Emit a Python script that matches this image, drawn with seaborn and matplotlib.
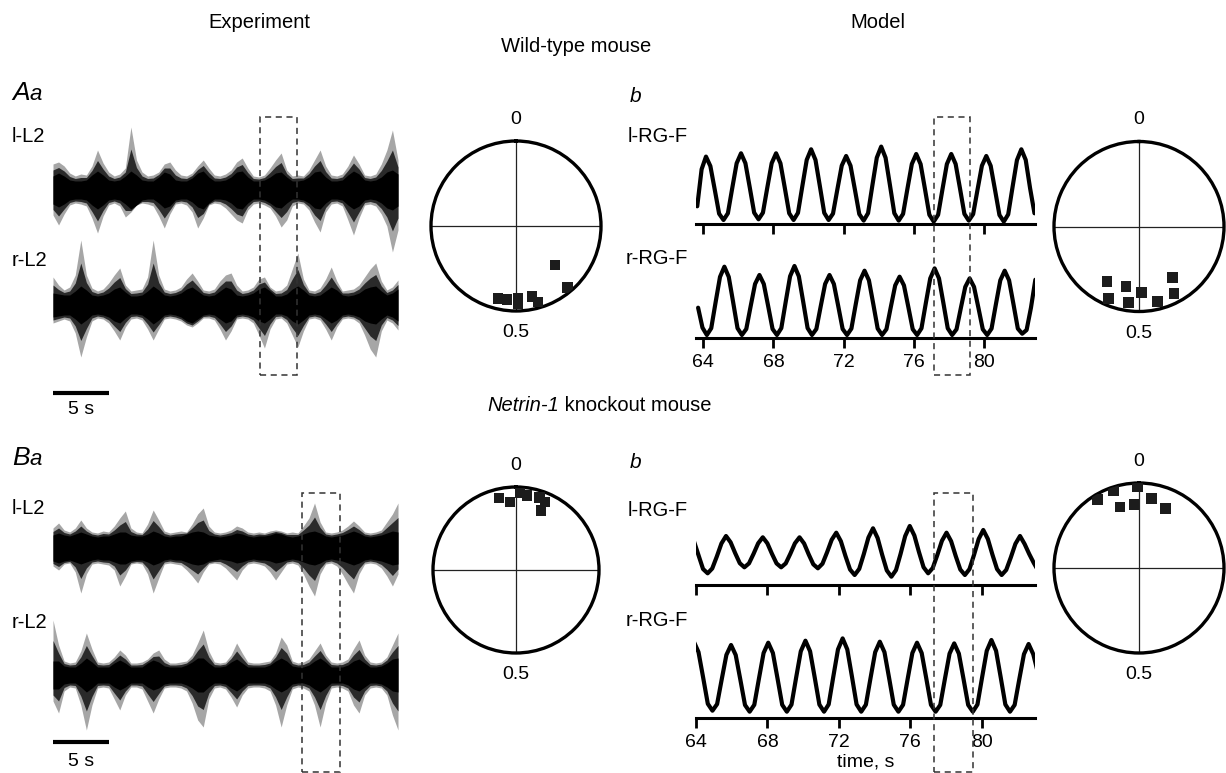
import matplotlib
matplotlib.use('Agg')
import numpy as np
import matplotlib.pyplot as plt
import seaborn as sns
from matplotlib.patches import Rectangle
from matplotlib.transforms import blended_transform_factory

sns.set_style('white')
plt.rcParams['font.family'] = ['Liberation Sans', 'DejaVu Sans']
plt.rcParams.update({'text.color': 'black', 'xtick.color': 'black', 'ytick.color': 'black',
                     'axes.labelcolor': 'black'})

# ---------------- data ----------------
# Experiment (ENG) traces: envelope read every 0.5 s over ~31 s (pixel units from trace centre)
exp_step = 0.5
A_top_hi = [26,28,24,17,14,16,15,24,40,27, 18,14,16,22,63,30,18,14,15,18, 26,28,20,15,14,17,24,30,22,15,
            14,16,20,28,32,22,14,13,15,22, 30,37,20,14,15,14,20,30,40,24, 15,14,16,24,35,26,15,14,16,26, 40,60,30]
A_top_lo = [25,35,24,15,13,14,16,28,43,26, 15,13,16,27,22,15,13,14,16,26, 38,24,14,13,15,22,38,28,15,13,
            14,18,24,30,33,20,14,13,15,18, 26,37,30,16,13,14,20,32,42,22, 14,13,16,30,45,28,15,14,16,24, 36,62,40]
A_top_core = [14,17,14,10,9,9,10,15,19,15, 10,9,10,14,19,15,10,9,9,13, 18,16,10,9,9,12,17,19,13,9,
              9,10,13,18,19,13,9,9,10,13, 17,18,13,9,9,10,13,18,19,13, 9,9,10,15,19,16,10,9,10,13, 18,20,16]
A_bot_hi = [28,20,15,18,30,65,30,17,14,16, 22,30,37,20,14,15,16,28,65,30, 16,14,15,18,26,32,24,15,14,16,
            24,30,32,20,14,15,18,26,28,18, 14,15,20,36,52,26,15,14,17,26, 38,24,14,15,16,20,28,36,42,24, 15,18,25]
A_bot_lo = [18,16,14,16,28,52,32,16,13,14, 18,26,35,22,14,13,15,24,35,24, 14,13,14,16,20,22,18,13,13,15,
            24,35,26,14,13,14,18,30,43,24, 14,13,18,30,42,26,14,13,15,24, 35,22,14,13,14,18,30,44,52,26, 15,18,25]
A_bot_core = [12,11,10,10,14,19,15,10,9,10, 12,16,18,13,9,9,10,14,19,15, 10,9,10,12,16,18,14,10,9,10,
              14,18,16,10,9,10,12,16,18,14, 9,9,11,16,19,15,10,9,10,14, 18,15,10,9,10,12,16,18,19,14, 10,12,16]
B_top_hi = [20,25,18,16,20,28,20,16,15,17, 16,22,30,37,20,16,15,24,38,28, 17,15,16,17,16,24,34,40,22,16,
            15,16,18,22,20,16,15,16,15,17, 18,17,15,16,15,22,30,45,26,16, 15,16,18,22,27,22,16,15,16,18, 26,34,45]
B_top_lo = [18,22,16,15,24,45,26,16,15,16, 17,22,38,28,16,15,16,26,45,30, 16,15,16,17,22,28,35,24,16,15,
            16,20,26,32,22,16,15,16,18,24, 32,24,16,15,17,26,38,48,26,16, 15,18,26,36,45,26,16,15,16,20, 28,38,26]
B_top_core = [13,15,13,12,14,16,14,12,11,12, 12,14,16,16,13,12,12,14,17,15, 12,11,12,12,14,16,17,16,13,12,
              11,12,13,15,14,12,11,12,12,13, 15,14,12,11,12,14,16,17,15,12, 11,12,13,15,17,15,12,11,12,13, 15,17,16]
B_bot_hi = [55,30,14,12,13,24,42,26,13,12, 13,18,25,20,12,12,13,16,22,25, 16,12,12,13,14,20,32,45,24,13,
            12,13,20,32,22,13,12,12,13,14, 22,38,30,14,12,13,16,24,32,20, 13,12,13,16,26,35,20,13,12,13, 18,30,42]
B_bot_lo = [26,38,16,12,13,30,55,30,13,12, 13,24,35,20,12,12,14,26,38,24, 13,12,12,13,16,28,45,52,24,13,
            12,14,22,32,20,13,12,12,13,16, 30,52,30,14,12,13,16,30,52,28, 13,12,13,16,30,38,20,13,12,13, 20,40,55]
B_bot_core = [14,14,9,8,8,12,17,13,8,8, 8,12,15,12,8,8,8,12,15,13, 9,8,8,8,10,13,17,17,12,8,
              8,9,13,16,12,8,8,8,8,10, 14,17,14,9,8,8,10,14,17,13, 8,8,8,10,14,16,12,8,8,9, 12,16,17]

# Model traces (time, s): start time, sampling step, values (pixel height above time axis)
mA_top_t0, mA_top_dt = 63.65, 0.25
mA_top = [18,55,67.7,58.2,34.7,10.6,4.3,11.0,36.3,61.0, 71,61.1,36.7,11.6,5,11.6,36.7,61.1,71,61.0,
          36.3,11.0,4.3,11.4,38.2,64.4,75,64.4,38.2,11.4, 4.3,10.7,35.0,58.7,68.3,58.6,34.7,10.2,3.7,11.1,
          39.2,66.6,77.7,66.6,39.2,11.1,3.7,10.4,35.7,60.3, 70.3,60.2,35.2,9.5,2.7,9.5,35.2,60.2,70.3,60.3,
          35.7,10.4,3.7,10.2,34.7,58.6,68.3,58.5,34.2,9.3, 2.7,9.9,37.4,64.2,75,64.4,36,11]
mA_bot_t0, mA_bot_dt = 63.70, 0.25
mA_bot = [30,10,2.7, 9.5,35.5,60.8,71, 60.8,35.5,9.5,2.7, 8.7,31.5,53.7,62.7, 53.7,31.5,8.7,2.7,
          9.6,35.8,61.4,71.7, 61.4,35.8,9.6,2.7, 8.7,31.5,53.7,62.7, 53.7,31.5,8.7,2.7,
          9.1,33.6,57.4,67, 57.4,33.6,9.1,2.7, 8.5,30.7,52.3,61, 52.3,30.7,8.5,2.7,
          9.4,34.7,59.3,69.3, 59.3,34.7,9.4,2.7, 8.4,29.9,50.8,59.3, 50.8,29.9,8.4,2.7,
          9.1,33.6,57.4,67, 57.4,33.6,9.1,4, 7.7,30,58]
mB_top_t0, mB_top_dt = 63.88, 0.2572
mB_top = [44,30,16,11.7,16.5,28.5,41.5,49, 42.7,31.8,21.8,17.7,21.6,31.2,41.7,47.7,
          41.7,31.2,21.6,17.7,21.6,31.2,41.7,47.7, 41.5,30.6,20.7,16.7,21.3,32.7,45.2,52.3,
          43.8,29.0,15.5,10,16.1,31.0,47.4,56.7, 47.0,30.1,14.6,8.3,14.9,31.1,48.9,59,
          49.5,33.0,17.8,11.7,17.0,30.0,44.2,52.3, 43.8,29.0,15.5,10,15.9,30.3,46,55,
          46,30.3,15.9,10,15.1,27.6,41.2,49, 41,31,22,14]
mB_bot_t0, mB_bot_dt = 63.88, 0.2603
mB_bot = [76,65.6,40.1,13.9,7, 13.6,38.5,62.8,72.7, 62.7,38.0,12.7,6, 12.9,39.1,64.7,75, 64.7,39.1,12.9,6,
          13.1,40.1,66.4,77, 66.4,40.1,13.1,6, 13.3,41.2,68.3,79.3, 68.3,41.2,13.3,6, 13,39.6,65.5,76,
          65.5,39.6,13,6, 12.9,39.1,64.7,75, 64.7,39.1,12.9,6, 12.8,38.8,64.1,74.3, 64.1,38.8,12.8,6,
          13.2,40.4,66.9,77.7, 66.9,40.4,13.2,6, 12.8,38.5,63.5,73.7, 63.5,45]
model_ticks = [64, 68, 72, 76, 80]

# Phase (cycles) and radius of the polar points
pA_exp_phase = [0.375, 0.389, 0.539, 0.519, 0.496, 0.496, 0.464, 0.455]
pA_exp_r     = [0.65, 0.94, 0.88, 0.87, 0.85, 0.91, 0.85, 0.93]
pA_mod_phase = [0.584, 0.564, 0.534, 0.522, 0.494, 0.462, 0.407, 0.423]
pA_mod_r     = [0.75, 0.92, 0.72, 0.90, 0.78, 0.91, 0.72, 0.89]
pB_exp_phase = [0.963, 0.986, 0.008, 0.023, 0.050, 0.064, 0.063]
pB_exp_r     = [0.89, 0.82, 0.93, 0.91, 0.92, 0.89, 0.78]
pB_mod_phase = [0.913, 0.950, 0.952, 0.988, 0.997, 0.029, 0.067]
pB_mod_r     = [0.94, 0.96, 0.75, 0.75, 0.96, 0.83, 0.77]

# ---------------- layout helpers ----------------
W, H = 1226, 773
fig = plt.figure(figsize=(W / 100, H / 100), dpi=100)
renderer = fig.canvas.get_renderer()

def fx(px): return px / W
def fy(py): return 1 - py / H
def box(x0, y0, x1, y1): return [fx(x0), fy(y1), (x1 - x0) / W, (y1 - y0) / H]

FS = 14.5
TS = 14
def label(px, py, s, ha='left', **kw):
    kw.setdefault('fontsize', FS)
    return fig.text(fx(px), fy(py), s, ha=ha, va='center', color='black', **kw)

def seq_text(px, py, parts):
    x = px
    for s, kw in parts:
        t = fig.text(fx(x), fy(py), s, ha='left', va='baseline', color='black', **kw)
        x += t.get_window_extent(renderer=renderer).width

DASH = dict(fill=False, ls=(0, (4, 3)), lw=1.1, ec='#333333', clip_on=False)

# ---------------- experiment panels ----------------
def exp_panel(px_box, traces, rect_t, rect_y, bar_y, lab_y):
    ax = fig.add_axes(box(*px_box))
    h = px_box[3] - px_box[1]
    ax.set_xlim(0, 31)
    ax.set_ylim(0, h)
    ax.axis('off')
    for centre, hi, lo, core in traces:
        t = np.arange(len(hi)) * exp_step
        hi, lo, core = np.array(hi), np.array(lo), np.array(core)
        ax.fill_between(t, centre + hi, centre - lo, color='#a6a6a6', lw=0)
        ax.fill_between(t, centre + (core + hi) / 2, centre - (core + lo) / 2, color='#2a2a2a', lw=0)
        ax.fill_between(t, centre + core, centre - core, color='#000000', lw=0)
    ax.add_patch(Rectangle((rect_t[0], rect_y[0]), rect_t[1] - rect_t[0], rect_y[1] - rect_y[0], **DASH))
    ax.plot([0, 5], [bar_y, bar_y], color='black', lw=3, solid_capstyle='butt', clip_on=False)
    ax.text(2.5, lab_y, '5 s', ha='center', va='center', fontsize=TS, color='black')
    return ax

exp_panel((53, 100, 398, 420), [(230, A_top_hi, A_top_lo, A_top_core), (115, A_bot_hi, A_bot_lo, A_bot_core)],
          (18.6, 21.9), (45, 303), 27, 10)
exp_panel((53, 440, 398, 773), [(225, B_top_hi, B_top_lo, B_top_core), (98, B_bot_hi, B_bot_lo, B_bot_core)],
          (22.35, 25.8), (1.5, 279.7), 31.3, 12)

# ---------------- model panels ----------------
def model_ax(x0, x1, y_axis, xlim, t0, dt, vals, show_labels, xlabel=None):
    ax = fig.add_axes(box(x0, y_axis - 95, x1, y_axis))
    t = t0 + np.arange(len(vals)) * dt
    sns.lineplot(x=t, y=np.array(vals), ax=ax, color='black', lw=3.0, estimator=None,
                 sort=False, legend=False, solid_joinstyle='round', solid_capstyle='round')
    ax.set_xlim(*xlim)
    ax.set_ylim(0, 95)
    for s in ['top', 'right', 'left']:
        ax.spines[s].set_visible(False)
    ax.spines['bottom'].set_linewidth(2.2)
    ax.spines['bottom'].set_color('black')
    ax.set_yticks([])
    ax.set_ylabel('')
    ax.set_xticks(model_ticks)
    ax.tick_params(axis='x', direction='out', length=7.5, width=2.0, color='black',
                   labelcolor='black', labelsize=TS, pad=4, bottom=True, labelbottom=show_labels)
    ax.set_xlabel(xlabel if xlabel else '', fontsize=TS, labelpad=2, color='black')
    return ax

axA1 = model_ax(696, 1035, 224.3, (63.58, 82.93), mA_top_t0, mA_top_dt, mA_top, False)
axA2 = model_ax(696, 1035, 337.7, (63.58, 82.93), mA_bot_t0, mA_bot_dt, mA_bot, True)
axB1 = model_ax(696, 1035, 585.0, (64.0, 82.98), mB_top_t0, mB_top_dt, mB_top, False)
axB2 = model_ax(696, 1035, 717.7, (64.0, 82.98), mB_bot_t0, mB_bot_dt, mB_bot, True, 'time, s')

def model_rect(ax, t0, t1, py0, py1):
    tr = blended_transform_factory(ax.transData, fig.transFigure)
    fig.add_artist(Rectangle((t0, fy(py1)), t1 - t0, (py1 - py0) / H, transform=tr, **DASH))

model_rect(axA1, 77.14, 79.2, 117, 375)
model_rect(axB1, 77.34, 79.49, 493.3, 771.7)

# ---------------- polar panels ----------------
def polar(cx, cy, r, phase, rad):
    ax = fig.add_axes(box(cx - r, cy - r, cx + r, cy + r), projection='polar')
    ax.set_theta_zero_location('N')
    ax.set_theta_direction(-1)
    theta = np.array(phase) * 2 * np.pi
    sns.scatterplot(x=theta, y=np.array(rad), ax=ax, marker='s', s=58, color='#1c1c1c',
                    edgecolor='none', legend=False, zorder=3)
    ax.set_ylim(0, 1)
    ax.set_yticks([])
    ax.set_xticks(np.deg2rad([0, 90, 180, 270]))
    ax.set_xticklabels(['0', '', '0.5', ''])
    ax.tick_params(axis='x', labelsize=TS, pad=5, labelcolor='black')
    ax.grid(True, color='#222222', lw=0.9)
    ax.spines['polar'].set_linewidth(2.4)
    ax.spines['polar'].set_color('black')
    ax.set_xlabel('')
    ax.set_ylabel('')
    return ax

polar(516, 226, 85, pA_exp_phase, pA_exp_r)
polar(1139, 226.5, 85, pA_mod_phase, pA_mod_r)
polar(516, 570, 83, pB_exp_phase, pB_exp_r)
polar(1139, 568, 85, pB_mod_phase, pB_mod_r)

# ---------------- texts ----------------
label(259, 23, 'Experiment', ha='center')
label(878, 23, 'Model', ha='center')
label(576, 46, 'Wild-type mouse', ha='center')
seq_text(487, 411, [('Netrin-1', dict(fontsize=FS, style='italic')),
                    (' knockout mouse', dict(fontsize=FS))])

seq_text(12, 100, [('A', dict(fontsize=19, style='italic')), ('a', dict(fontsize=16, style='italic'))])
seq_text(12, 465, [('B', dict(fontsize=19, style='italic')), ('a', dict(fontsize=16, style='italic'))])
label(630, 97, 'b', fontsize=15, style='italic')
label(630, 463, 'b', fontsize=15, style='italic')

label(12, 137, 'l-L2')
label(12, 260, 'r-L2')
label(12, 508, 'l-L2')
label(12, 622, 'r-L2')
label(688, 136, 'l-RG-F', ha='right')
label(688, 259, 'r-RG-F', ha='right')
label(688, 510, 'l-RG-F', ha='right')
label(688, 620, 'r-RG-F', ha='right')

fig.savefig('out.png', dpi=100)
